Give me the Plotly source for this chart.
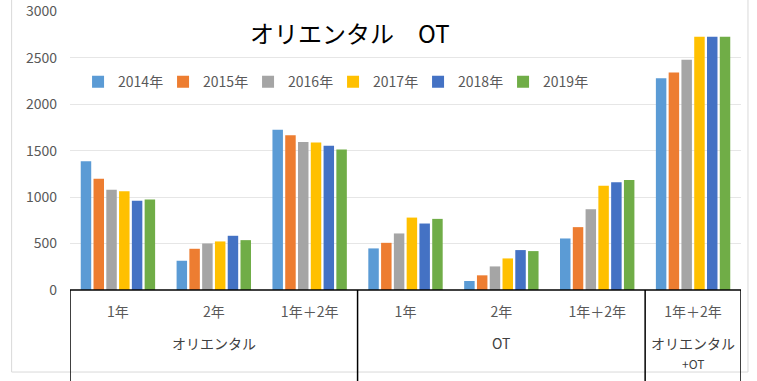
import plotly.graph_objects as go

years = ["2014年", "2015年", "2016年", "2017年", "2018年", "2019年"]
sub_labels = ["1年", "2年", "1年＋2年", "1年", "2年", "1年＋2年", "1年＋2年"]
group_labels = ["オリエンタル", "OT", "オリエンタル<br>+OT"]
group_of = [0, 0, 0, 1, 1, 1, 2]

v2014 = [1386, 315, 1726, 448, 97, 555, 2280]
v2015 = [1199, 444, 1668, 508, 158, 677, 2342]
v2016 = [1081, 501, 1593, 609, 254, 870, 2481]
v2017 = [1063, 523, 1590, 780, 340, 1124, 2728]
v2018 = [960, 584, 1554, 716, 430, 1160, 2728]
v2019 = [974, 537, 1514, 766, 419, 1185, 2728]
series = [v2014, v2015, v2016, v2017, v2018, v2019]

colors = ["#5B9BD5", "#ED7D31", "#A5A5A5", "#FFC000", "#4472C4", "#70AD47"]
FONT = "Noto Sans CJK JP"

xs = list(range(len(sub_labels)))

fig = go.Figure()
for name, vals, c in zip(years, series, colors):
    fig.add_trace(go.Bar(x=xs, y=vals, name=name, marker=dict(color=c, line=dict(width=0))))

# group boundaries
bounds = [-0.5]
for i in range(1, len(group_of)):
    if group_of[i] != group_of[i - 1]:
        bounds.append(i - 0.5)
bounds.append(len(group_of) - 0.5)

shapes = []
# faint outer frame
shapes.append(dict(type="rect", xref="paper", yref="paper", x0=-0.087, x1=1.0104, y0=-0.294, y1=1.2,
                   line=dict(color="#d9d9d9", width=1), layer="below"))
for b in bounds:
    shapes.append(dict(type="line", xref="x", yref="paper", x0=b, x1=b, y0=0, y1=-0.34,
                       line=dict(color="black", width=1.5)))
shapes.append(dict(type="line", xref="paper", yref="paper", x0=0, x1=1, y0=0, y1=0,
                   line=dict(color="black", width=1.5)))

annotations = []
for gi, gl in enumerate(group_labels):
    idx = [i for i, g in enumerate(group_of) if g == gi]
    cx = sum(idx) / len(idx)
    lines = gl.split("<br>")
    annotations.append(dict(x=cx, y=-0.19, xref="x", yref="paper", text=lines[0], showarrow=False,
                            yanchor="middle", font=dict(family=FONT, size=14, color="#404040")))
    if len(lines) > 1:
        annotations.append(dict(x=cx, y=-0.262, xref="x", yref="paper", text=lines[1], showarrow=False,
                                yanchor="middle", font=dict(family=FONT, size=12, color="#404040")))

annotations.append(dict(x=0.418, y=0.922, xref="paper", yref="paper", text="オリエンタル　OT", showarrow=False,
                        xanchor="center", yanchor="middle", font=dict(family=FONT, size=24, color="black")))

fig.update_layout(
    width=757, height=381,
    margin=dict(l=70, r=16, t=11, b=91),
    paper_bgcolor="white", plot_bgcolor="white",
    barmode="group", bargap=0.2, bargroupgap=0.18,
    font=dict(family=FONT, size=14, color="#595959"),
    showlegend=True,
    legend=dict(orientation="h", x=0.012, y=0.745, xanchor="left", yanchor="middle",
                font=dict(family=FONT, size=14, color="#595959"), bgcolor="rgba(0,0,0,0)",
                entrywidth=40, itemwidth=30, traceorder="normal"),
    xaxis=dict(tickmode="array", tickvals=xs, ticktext=sub_labels, range=[-0.5, len(xs) - 0.5],
               showgrid=False, zeroline=False, showline=False, ticks="", automargin=False,
               tickfont=dict(family=FONT, size=14, color="#595959"), ticklabelstandoff=12),
    yaxis=dict(range=[0, 3005], tickvals=[0, 500, 1000, 1500, 2000, 2500, 3000],
               showgrid=True, gridcolor="#e6e6e6", gridwidth=1,
               zeroline=False, showline=False, ticks="", ticklabelstandoff=12, automargin=False,
               tickfont=dict(family=FONT, size=14, color="#595959")),
    shapes=shapes, annotations=annotations,
)

fig.write_html("out.html", config={"displayModeBar": False},
               post_script="document.body.style.margin='0';")
